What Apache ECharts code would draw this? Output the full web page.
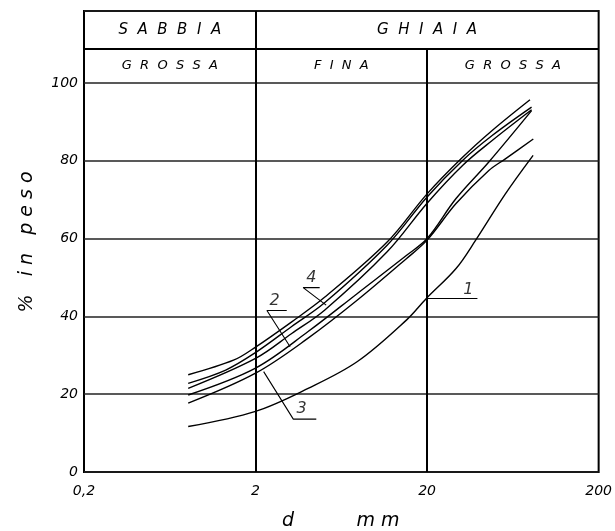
<!DOCTYPE html>
<html>
<head>
<meta charset="utf-8">
<script src="https://cdn.jsdelivr.net/npm/echarts@6/dist/echarts.min.js"></script>
<style>
html, body { margin: 0; padding: 0; background: #fff; }
#chart { width: 615px; height: 531px; }
</style>
</head>
<body>
<div id="chart"></div>
<script>
// granulometric curves: d in mm (log), % passing by weight
var xTicks = [0.2, 2, 20, 200];
var yTicks = [0, 20, 40, 60, 80, 100];

var c1D = [0.81, 2, 4.05, 7.85, 15.2, 19.8, 29.5, 38.4, 57.2, 83];
var c1P = [11.7, 15.6, 21.5, 28.4, 39.1, 44.6, 52.3, 59.6, 71.5, 81.4];

var c2D = [0.81, 2, 4.05, 7.85, 15.2, 20, 29.5, 45.8, 81.3];
var c2P = [19.8, 26.7, 36.1, 45.9, 55.7, 60, 70.3, 79.7, 92.9];

var c3D = [0.81, 2, 4.05, 7.85, 15.2, 20, 29.5, 45.8, 57.2, 83.2];
var c3P = [17.7, 25.4, 34.4, 44.2, 54.9, 59.6, 69.0, 77.5, 80.5, 85.6];

var c4D = [0.81, 1.34, 2, 3.25, 5.05, 11.7, 20, 32.2, 47.9, 81.3];
var c4P = [22.8, 26.2, 30.7, 37.4, 43.5, 58.3, 70.7, 80.1, 86.5, 93.8];

var c4aD = [0.81, 1.5, 2, 3.25, 5.05, 11.7, 20, 32.2, 47.9, 79.6];
var c4aP = [25.0, 28.8, 32.1, 38.6, 44.9, 59.1, 71.5, 80.9, 87.8, 95.7];

var c4bD = [0.81, 2, 3.25, 5.05, 11.7, 20, 32.2, 47.9, 81.3];
var c4bP = [21.5, 29.2, 35.6, 41.6, 56.6, 69.1, 78.8, 85.2, 93.1];

// curve numbers and their leader lines
var tagText = ['1', '2', '3', '4'];
var tagD = [34.8, 2.58, 3.71, 4.23];
var tagP = [46.9, 44.0, 16.2, 49.9];
var leader1 = [[20, 44.6], [39.3, 44.6]];
var leader2 = [[3.18, 32.2], [2.33, 41.5], [3.04, 41.5]];
var leader3 = [[2.23, 25.8], [3.32, 13.6], [4.52, 13.6]];
var leader4 = [[5.16, 42.9], [3.79, 47.4], [4.73, 47.4]];

// header table
var yHead = 108.7, yTop = 118.5;
var headTop = ['S  A  B  B  I  A', 'G  H  I  A  I  A'];
var headTopX = [[0.2, 2], [2, 200]];
var headSub = ['G  R  O  S  S  A', 'F  I  N  A', 'G  R  O  S  S  A'];
var headSubX = [[0.2, 2], [2, 20], [20, 200]];

var chart = echarts.init(document.getElementById('chart'));

function pts(d, p) {
	var out = [];
	for (var i = 0; i < d.length; i++) out.push([d[i], p[i]]);
	return out;
}

function curve(name, d, p) {
	return {
		name: name,
		type: 'line',
		data: pts(d, p),
		smooth: 0.35,
		showSymbol: false,
		silent: true,
		lineStyle: { color: '#000', width: 1.4 },
		z: 5
	};
}

function leader(data) {
	return {
		type: 'line',
		data: data,
		showSymbol: false,
		silent: true,
		lineStyle: { color: '#000', width: 1.1 },
		z: 5
	};
}

var fam = 'DejaVu Sans';

var areas = [];
for (var i = 0; i < headTop.length; i++) {
	areas.push([
		{ coord: [headTopX[i][0], yHead], label: { formatter: headTop[i], fontSize: 15 } },
		{ coord: [headTopX[i][1], yTop] }
	]);
}
for (var j = 0; j < headSub.length; j++) {
	areas.push([
		{ coord: [headSubX[j][0], 100], label: { formatter: headSub[j] } },
		{ coord: [headSubX[j][1], yHead] }
	]);
}

var option = {
	backgroundColor: '#fff',
	animation: false,
	grid: {
		left: 84, right: 10, top: 11, bottom: 59,
		show: true, borderColor: '#000', borderWidth: 2
	},
	xAxis: {
		type: 'log',
		logBase: 10,
		min: 0.2,
		max: 200,
		axisLine: { show: false },
		axisTick: { show: false },
		splitLine: { show: false },
		axisLabel: {
			customValues: xTicks,
			margin: 12,
			fontSize: 14,
			fontFamily: fam,
			fontStyle: 'italic',
			color: '#000',
			formatter: function (v) { return v < 1 ? '0,2' : String(Math.round(v)); }
		}
	},
	yAxis: {
		type: 'value',
		min: 0,
		max: yTop,
		interval: 20,
		axisLine: { show: false },
		axisTick: { show: false },
		splitLine: { show: true, lineStyle: { color: '#222', width: 1.5 } },
		axisLabel: {
			margin: 6,
			fontSize: 14,
			fontFamily: fam,
			fontStyle: 'italic',
			color: '#000',
			showMaxLabel: false,
			formatter: function (v) { return yTicks.indexOf(v) >= 0 ? String(v) : ''; }
		}
	},
	graphic: [
		{
			type: 'text', x: 27, y: 242, rotation: Math.PI / 2,
			style: {
				text: '%   i n   p e s o', font: 'italic 19px "DejaVu Sans"',
				fill: '#000', align: 'center', verticalAlign: 'middle'
			}
		},
		{
			type: 'text', x: 288, y: 521,
			style: { text: 'd', font: 'italic 19px "DejaVu Sans"', fill: '#000', align: 'center', verticalAlign: 'middle' }
		},
		{
			type: 'text', x: 378, y: 521,
			style: { text: 'm m', font: 'italic 19px "DejaVu Sans"', fill: '#000', align: 'center', verticalAlign: 'middle' }
		}
	],
	series: [
		{
			type: 'line',
			data: [],
			silent: true,
			markLine: {
				silent: true,
				symbol: ['none', 'none'],
				label: { show: false },
				lineStyle: { color: '#000', width: 2, type: 'solid' },
				data: [
					[{ coord: [2, 0] }, { coord: [2, yTop] }],
					[{ coord: [20, 0] }, { coord: [20, yHead] }],
					[{ coord: [0.2, yHead] }, { coord: [200, yHead] }]
				]
			},
			markArea: {
				silent: true,
				itemStyle: { color: 'rgba(0,0,0,0)' },
				label: {
					show: true,
					position: 'inside',
					fontSize: 13,
					fontFamily: fam,
					fontStyle: 'italic',
					color: '#000'
				},
				data: areas
			}
		},
		curve('1', c1D, c1P),
		curve('2', c2D, c2P),
		curve('3', c3D, c3P),
		curve('4', c4D, c4P),
		curve('4a', c4aD, c4aP),
		curve('4b', c4bD, c4bP),
		leader(leader1),
		leader(leader2),
		leader(leader3),
		leader(leader4),
		{
			type: 'scatter',
			symbolSize: 0,
			silent: true,
			itemStyle: { color: '#000' },
			data: tagText.map(function (t, k) { return { name: t, value: [tagD[k], tagP[k]] }; }),
			label: {
				show: true,
				position: 'inside',
				formatter: '{b}',
				fontSize: 16,
				fontFamily: fam,
				fontStyle: 'italic',
				color: '#000',
				textBorderWidth: 0
			}
		}
	]
};

chart.setOption(option);
</script>
</body>
</html>
